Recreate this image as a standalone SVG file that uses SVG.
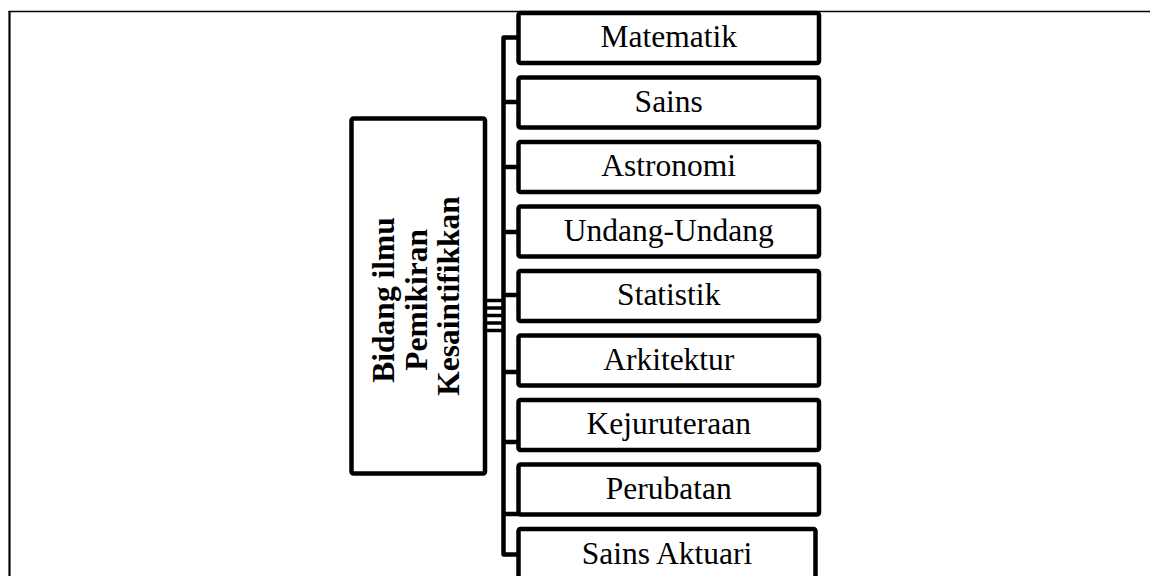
<svg xmlns="http://www.w3.org/2000/svg" width="1150" height="576" viewBox="0 0 1150 576">
  <style>
    .box { fill: #ffffff; stroke: #000000; stroke-width: 4.5; }
    .conn { fill: none; stroke: #000000; stroke-width: 4.5; stroke-linejoin: round; }
    .stripe { fill: none; stroke: #000000; stroke-width: 3.5; }
    .frame { fill: none; stroke: #000000; }
    .label { font-family: "Liberation Serif", "Times New Roman", serif; font-size: 31.5px; fill: #000000; text-anchor: middle; }
    .title { font-weight: bold; }
  </style>
  <rect width="1150" height="576" fill="#ffffff"/>

  <!-- page frame -->
  <g id="frame">
    <line class="frame" x1="8.5" y1="11.5" x2="1150" y2="11.5" stroke-width="1.6"/>
    <line class="frame" x1="9.5" y1="11" x2="9.5" y2="576" stroke-width="2.2"/>
  </g>

  <!-- connectors -->
  <g id="connectors">
    <path class="conn" d="M518.5 37.5 H503.5 V554.5 H518.5"/>
    <path class="conn" d="M503.5 102 H518.5"/>
    <path class="conn" d="M503.5 167 H518.5"/>
    <path class="conn" d="M503.5 232 H518.5"/>
    <path class="conn" d="M503.5 295 H518.5"/>
    <path class="conn" d="M503.5 372 H518.5"/>
    <path class="conn" d="M503.5 442 H518.5"/>
    <path class="conn" d="M503.5 514 H518.5"/>
    <path class="stripe" d="M487 300.5 H503.5"/>
    <path class="stripe" d="M487 308 H503.5"/>
    <path class="stripe" d="M487 315.5 H503.5"/>
    <path class="stripe" d="M487 323 H503.5"/>
    <path class="stripe" d="M487 330.5 H503.5"/>
  </g>

  <!-- root node -->
  <g id="root">
    <rect class="box" x="351.5" y="118.5" width="133.5" height="355" rx="2"/>
    <text class="label title" transform="translate(418,296) rotate(-90)">
      <tspan x="0" y="-24">Bidang ilmu</tspan>
      <tspan x="0" y="8.5">Pemikiran</tspan>
      <tspan x="0" y="40.5">Kesaintifikkan</tspan>
    </text>
  </g>

  <!-- child nodes -->
  <g id="matematik">
    <rect class="box" x="518.5" y="13" width="300.5" height="50" rx="2"/>
    <text class="label" x="668.75" y="47">Matematik</text>
  </g>
  <g id="sains">
    <rect class="box" x="518.5" y="77.5" width="300.5" height="50" rx="2"/>
    <text class="label" x="668.75" y="111.5">Sains</text>
  </g>
  <g id="astronomi">
    <rect class="box" x="518.5" y="142" width="300.5" height="50" rx="2"/>
    <text class="label" x="668.75" y="176">Astronomi</text>
  </g>
  <g id="undang-undang">
    <rect class="box" x="518.5" y="206.5" width="300.5" height="50" rx="2"/>
    <text class="label" x="668.75" y="240.5">Undang-Undang</text>
  </g>
  <g id="statistik">
    <rect class="box" x="518.5" y="271" width="300.5" height="50" rx="2"/>
    <text class="label" x="668.75" y="305">Statistik</text>
  </g>
  <g id="arkitektur">
    <rect class="box" x="518.5" y="335.5" width="300.5" height="50" rx="2"/>
    <text class="label" x="668.75" y="369.5">Arkitektur</text>
  </g>
  <g id="kejuruteraan">
    <rect class="box" x="518.5" y="400" width="300.5" height="50" rx="2"/>
    <text class="label" x="668.75" y="434">Kejuruteraan</text>
  </g>
  <g id="perubatan">
    <rect class="box" x="518.5" y="464.5" width="300.5" height="50" rx="2"/>
    <text class="label" x="668.75" y="498.5">Perubatan</text>
  </g>
  <g id="sains-aktuari">
    <rect class="box" x="518.5" y="529" width="297" height="50" rx="2"/>
    <text class="label" x="667" y="564">Sains Aktuari</text>
  </g>
</svg>
